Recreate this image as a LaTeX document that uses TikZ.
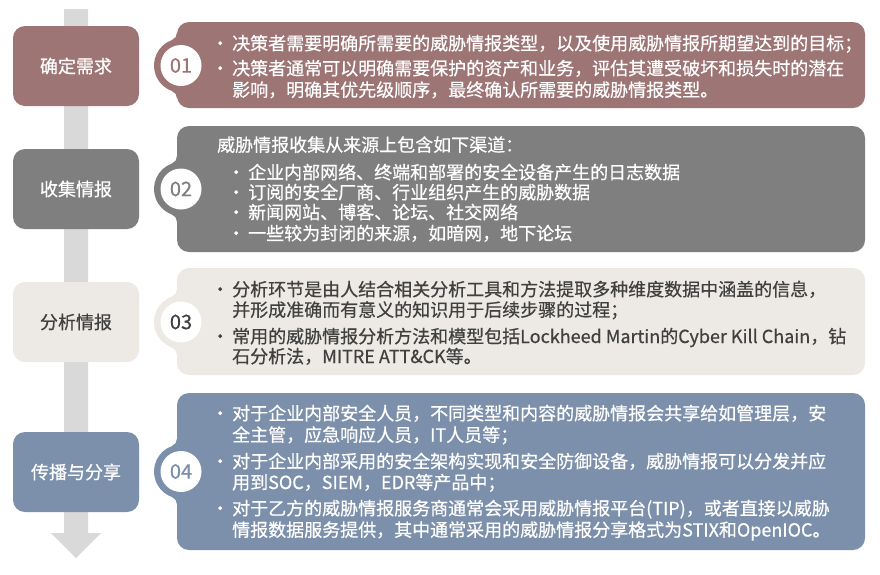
\documentclass[tikz,border=0pt]{standalone}
\usepackage{fontspec}
\newfontfamily\cjk[FakeBold=0.5]{Noto Sans CJK SC}
\usepackage{tikz}
\usetikzlibrary{shapes.geometric}

\definecolor{rose}{RGB}{158,117,117}
\definecolor{stone}{RGB}{127,127,127}
\definecolor{sand}{RGB}{237,234,229}
\definecolor{slate}{RGB}{124,144,171}
\definecolor{ink}{RGB}{64,64,64}
\definecolor{rail}{RGB}{217,217,217}

\newcommand{\bul}{\makebox[24pt][c]{•}}
% rounded bump on the left side of a detail box: colour, centre y
\newcommand{\bump}[2]{%
  \fill[#1] (190,#2-32.88) -- (177,#2-32.88) arc[start angle=0, end angle=69.95, radius=8]
    arc[start angle=-110.05, end angle=-249.95, radius=27]
    arc[start angle=-69.95, end angle=0, radius=8] -- (190,#2+32.88) -- cycle;}

\begin{document}
\begin{tikzpicture}[x=1pt,y=-1pt,
    lbox/.style={rectangle, rounded corners=12pt, minimum width=126pt, minimum height=80pt, inner sep=0pt, text=white, font=\cjk\fontsize{18}{22}\selectfont},
    rbox/.style={rectangle, rounded corners=12pt, minimum width=688pt, inner sep=0pt},
    num/.style={circle, fill=white, minimum size=41pt, inner sep=0pt, font=\cjk\fontsize{20}{20}\selectfont},
    txt/.style={anchor=base west, inner sep=0pt, text=white, font=\cjk\fontsize{18}{22}\selectfont}]
			\useasboundingbox (0,0) rectangle (880,574);
			\fill[white] (0,0) rectangle (880,574);
			% grey rail with arrow head
			\fill[rail] (64,9) -- (88,9) -- (88,533) -- (101,533) -- (76,558) -- (51,533) -- (64,533) -- cycle;
			% left step boxes
			\node[lbox, fill=rose] (b1) at (76,66) {确定需求};
			\node[lbox, fill=stone] (b2) at (76,189) {收集情报};
			\node[lbox, fill=sand, text=ink] (b3) at (76,322) {分析情报};
			\node[lbox, fill=slate] (b4) at (76,472) {传播与分享};
			% right detail boxes
			\node[rbox, fill=rose, minimum height=86pt] (d1) at (521,65) {};
			\node[rbox, fill=stone, minimum height=126pt] (d2) at (521,189) {};
			\node[rbox, fill=sand, minimum height=107pt] (d3) at (521,321.5) {};
			\node[rbox, fill=slate, minimum height=157pt] (d4) at (521,471.5) {};
			\bump{rose}{65.5}
			\bump{stone}{189}
			\bump{sand}{322}
			\bump{slate}{471.5}
			\node[num, text=rose] (n1) at (181,65.5) {01};
			\node[num, text=stone] (n2) at (181,189) {02};
			\node[num, text=ink] (n3) at (181,322) {03};
			\node[num, text=slate] (n4) at (181,471.5) {04};
			% texts of box 1
			\node[txt] (t1a) at (208,50) {\bul 决策者需要明确所需要的威胁情报类型，以及使用威胁情报所期望达到的目标；};
			\node[txt] (t1b) at (208,75) {\bul 决策者通常可以明确需要保护的资产和业务，评估其遭受破坏和损失时的潜在};
			\node[txt] (t1c) at (232,96.5) {影响，明确其优先级顺序，最终确认所需要的威胁情报类型。};
			% texts of box 2
			\node[txt] (t2a) at (217,151.5) {威胁情报收集从来源上包含如下渠道：};
			\node[txt] (t2b) at (224,179) {\bul 企业内部网络、终端和部署的安全设备产生的日志数据};
			\node[txt] (t2c) at (224,199) {\bul 订阅的安全厂商、行业组织产生的威胁数据};
			\node[txt] (t2d) at (224,219) {\bul 新闻网站、博客、论坛、社交网络};
			\node[txt] (t2e) at (224,240) {\bul 一些较为封闭的来源，如暗网，地下论坛};
			% texts of box 3
			\node[txt, text=ink] (t3a) at (208,296) {\bul 分析环节是由人结合相关分析工具和方法提取多种维度数据中涵盖的信息，};
			\node[txt, text=ink] (t3b) at (232,316.5) {并形成准确而有意义的知识用于后续步骤的过程；};
			\node[txt, text=ink] (t3c) at (208,343) {\bul 常用的威胁情报分析方法和模型包括Lockheed Martin的Cyber Kill Chain，钻};
			\node[txt, text=ink] (t3d) at (232,363) {石分析法，MITRE ATT\&CK等。};
			% texts of box 4
			\node[txt] (t4a) at (208,420) {\bul 对于企业内部安全人员，不同类型和内容的威胁情报会共享给如管理层，安};
			\node[txt] (t4b) at (232,441.5) {全主管，应急响应人员，IT人员等；};
			\node[txt] (t4c) at (208,468) {\bul 对于企业内部采用的安全架构实现和安全防御设备，威胁情报可以分发并应};
			\node[txt] (t4d) at (232,489) {用到SOC，SIEM，EDR等产品中；};
			\node[txt] (t4e) at (208,515) {\bul 对于乙方的威胁情报服务商通常会采用威胁情报平台(TIP)，或者直接以威胁};
			\node[txt] (t4f) at (232,536.5) {情报数据服务提供，其中通常采用的威胁情报分享格式为STIX和OpenIOC。};
		\end{tikzpicture}
\end{document}
